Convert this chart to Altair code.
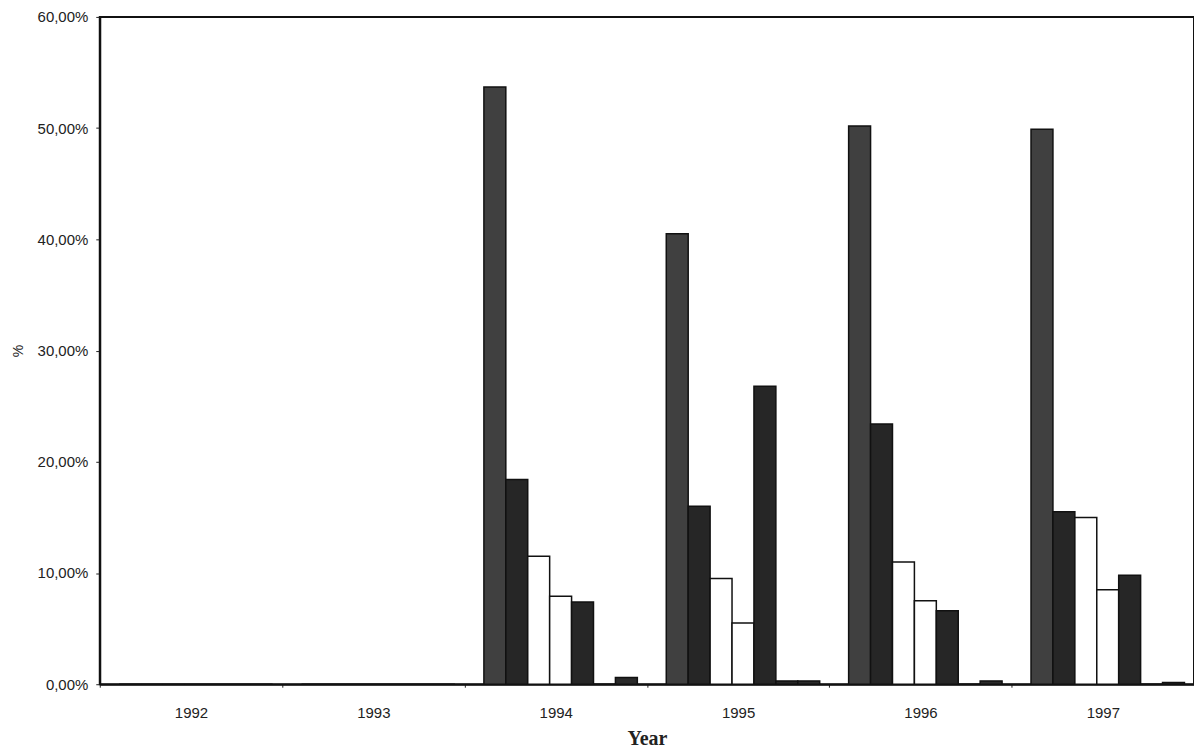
import altair as alt
import pandas as pd

years = ["1992", "1993", "1994", "1995", "1996", "1997"]
series = ["S1", "S2", "S3", "S4", "S5", "S6", "S7"]
s1 = [0, 0, 53.7, 40.5, 50.2, 49.9]
s2 = [0, 0, 18.4, 16.0, 23.4, 15.5]
s3 = [0, 0, 11.5, 9.5, 11.0, 15.0]
s4 = [0, 0, 7.9, 5.5, 7.5, 8.5]
s5 = [0, 0, 7.4, 26.8, 6.6, 9.8]
s6 = [0, 0, 0.0, 0.3, 0.0, 0.0]
s7 = [0, 0, 0.6, 0.3, 0.3, 0.15]
fills = ["#404040", "#262626", "#ffffff", "#ffffff", "#262626", "#262626", "#2a2a2a"]

rows = []
for name, vals in zip(series, [s1, s2, s3, s4, s5, s6, s7]):
    for y, v in zip(years, vals):
        rows.append({"Year": y, "Series": name, "Value": v})
df = pd.DataFrame(rows)

chart = alt.Chart(df).mark_bar(stroke="#111111", strokeWidth=1.5).encode(
    x=alt.X("Year:N", sort=years,
            scale=alt.Scale(paddingInner=0, paddingOuter=0),
            axis=alt.Axis(title="Year", labelAngle=0, labelFont="Liberation Sans",
                          labelFontSize=15, labelColor="#222222",
                          tickBand="extent", tickSize=3, tickColor="#222222",
                          labelPadding=18, domainColor="#111111", domainWidth=2,
                          titleFont="Liberation Serif", titleFontSize=20,
                          titleFontWeight="bold", titleColor="#222222",
                          titlePadding=8)),
    xOffset=alt.XOffset("Series:N", sort=series,
                        scale=alt.Scale(paddingInner=0, paddingOuter=0.66, align=0.67)),
    y=alt.Y("Value:Q",
            scale=alt.Scale(domain=[0, 60], nice=False),
            axis=alt.Axis(title="%", values=[0, 10, 20, 30, 40, 50, 60],
                          labelExpr="replace(format(datum.value, '.2f'), '.', ',') + '%'",
                          labelFont="Liberation Sans", labelFontSize=15,
                          labelColor="#222222", tickSize=4, tickColor="#222222",
                          labelPadding=8, domainColor="#111111", domainWidth=2,
                          grid=False, titleFont="Liberation Sans",
                          titleFontSize=14, titleFontWeight="normal",
                          titleColor="#222222", titlePadding=12)),
    color=alt.Color("Series:N", sort=series,
                    scale=alt.Scale(domain=series, range=fills), legend=None),
).properties(
    width=1097, height=669,
    background="#ffffff",
    autosize=alt.AutoSizeParams(type="none"),
    padding={"left": 92, "top": 8, "right": 0, "bottom": 63},
).configure_view(
    stroke="#111111", strokeWidth=2, fill="#ffffff"
)

chart.save("out.html", embed_options={"renderer": "svg", "actions": False})
